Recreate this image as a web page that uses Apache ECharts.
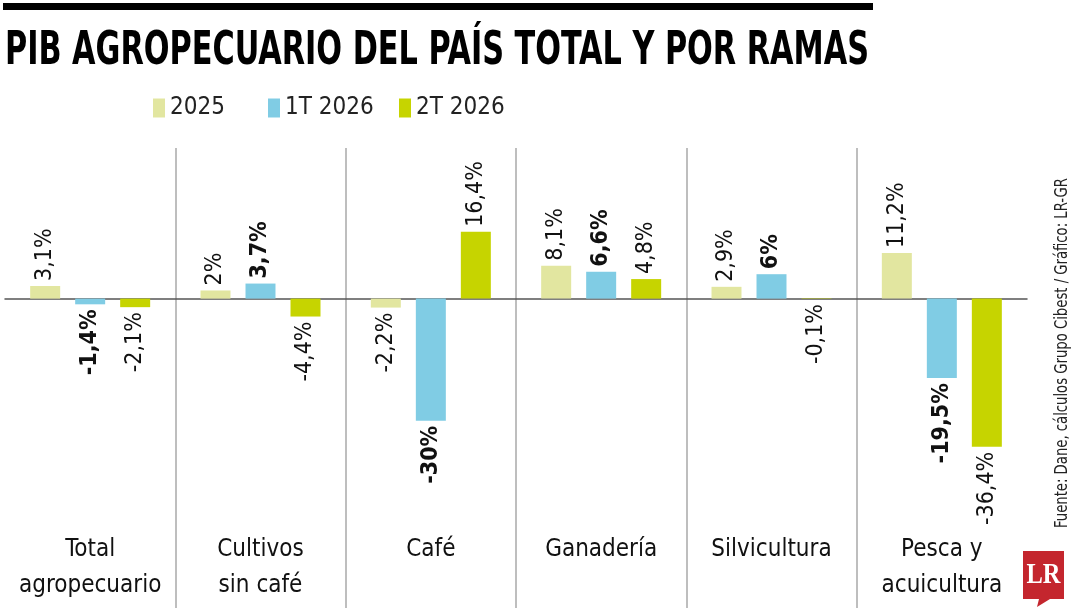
<!DOCTYPE html>
<html>
<head>
<meta charset="utf-8">
<script src="https://cdn.jsdelivr.net/npm/echarts@6/dist/echarts.min.js"></script>
<style>
  html, body { margin: 0; padding: 0; background: #fff; }
  #chart { width: 1080px; height: 608px; }
</style>
</head>
<body>
<div id="chart"></div>
<script>
var categories = ['Total\nagropecuario', 'Cultivos\nsin café', 'Café', 'Ganadería', 'Silvicultura', 'Pesca y\nacuicultura'];
var seriesNames = ['2025', '1T 2026', '2T 2026'];
var values2025 = [3.1, 2, -2.2, 8.1, 2.9, 11.2];
var values1T2026 = [-1.4, 3.7, -30, 6.6, 6, -19.5];
var values2T2026 = [-2.1, -4.4, 16.4, 4.8, -0.1, -36.4];
var colors = ['#e2e6a0', '#80cce4', '#c6d400'];

var FONT = '"Liberation Sans Narrow", "DejaVu Sans Condensed", sans-serif';
var TITLE = 'PIB AGROPECUARIO DEL PAÍS TOTAL Y POR RAMAS';
var SOURCE = 'Fuente: Dane, cálculos Grupo Cibest / Gráfico: LR-GR';

// squeeze a text horizontally to a target width (the original font is very condensed)
var measureCtx = document.createElement('canvas').getContext('2d');
function fitScale(text, font, width) {
  measureCtx.font = font;
  return width / measureCtx.measureText(text).width;
}

function fmt(v) {
  return (Math.round(v * 10) / 10).toString().replace('.', ',') + '%';
}

// labels sit above positive bars and below negative ones, rotated
function makeData(values, bold) {
  return values.map(function (v) {
    return {
      value: v,
      label: {
        show: true,
        position: v >= 0 ? 'top' : 'bottom',
        rotate: 90,
        align: v >= 0 ? 'left' : 'right',
        verticalAlign: 'middle',
        distance: 5,
        fontFamily: FONT,
        fontSize: 23,
        fontWeight: bold ? 'bold' : 'normal',
        color: '#111',
        formatter: function (p) { return fmt(p.value); }
      }
    };
  });
}

var allValues = [values2025, values1T2026, values2T2026];
var titleFont = 'bold 46px ' + FONT;
var sourceFont = '17px ' + FONT;
var logoFont = 'bold 30px "Liberation Serif", "DejaVu Serif", serif';

var myChart = echarts.init(document.getElementById('chart'));

option = {
  animation: false,
  backgroundColor: '#fff',
  color: colors,
  graphic: [
    { type: 'rect', shape: { x: 3, y: 3, width: 870, height: 7 }, style: { fill: '#000' } },
    {
      type: 'text', x: 5, y: 52, scaleX: fitScale(TITLE, titleFont, 864),
      style: { text: TITLE, font: titleFont, fill: '#000', verticalAlign: 'middle' }
    },
    {
      type: 'text', x: 1063, y: 528, rotation: Math.PI / 2, scaleX: fitScale(SOURCE, sourceFont, 350),
      style: { text: SOURCE, font: sourceFont, fill: '#222', verticalAlign: 'middle' }
    },
    {
      type: 'polygon',
      shape: { points: [[1023, 551], [1064, 551], [1064, 599], [1050, 599], [1037, 607], [1039, 599], [1023, 599]] },
      style: { fill: '#c4262e' }
    },
    {
      type: 'text', x: 1043.5, y: 575, scaleX: fitScale('LR', logoFont, 34),
      style: { text: 'LR', font: logoFont, fill: '#fff', align: 'center', verticalAlign: 'middle' }
    }
  ],
  legend: seriesNames.map(function (name, i) {
    return {
      data: [name],
      left: [148, 263, 394][i],
      top: 91,
      itemWidth: 12,
      itemHeight: 19,
      itemGap: 0,
      icon: 'rect',
      textStyle: { fontFamily: FONT, fontSize: 24, color: '#222' }
    };
  }),
  grid: { left: 5, right: 53, top: 148, bottom: 0, outerBoundsMode: 'none' },
  xAxis: [
    {
      type: 'category',
      data: categories,
      position: 'bottom',
      axisLine: { onZero: true, lineStyle: { color: '#555', width: 1.5 } },
      axisTick: { show: false },
      axisLabel: { show: false },
      splitLine: { show: true, showMinLine: false, showMaxLine: false, lineStyle: { color: '#a8a8a8', width: 1.5 } }
    },
    {
      type: 'category',
      data: categories,
      position: 'bottom',
      offset: -76,
      axisLine: { show: false, onZero: false },
      axisTick: { show: false },
      splitLine: { show: false },
      axisLabel: { margin: 0, fontFamily: FONT, fontSize: 24, lineHeight: 36, color: '#111', interval: 0, verticalAlign: 'top' }
    }
  ],
  yAxis: {
    type: 'value',
    min: -76,
    max: 37,
    show: false,
    splitLine: { show: false }
  },
  series: seriesNames.map(function (name, i) {
    return {
      name: name,
      type: 'bar',
      barWidth: 30,
      barGap: '50%',
      data: makeData(allValues[i], i === 1)
    };
  })
};

myChart.setOption(option);
</script>
</body>
</html>
